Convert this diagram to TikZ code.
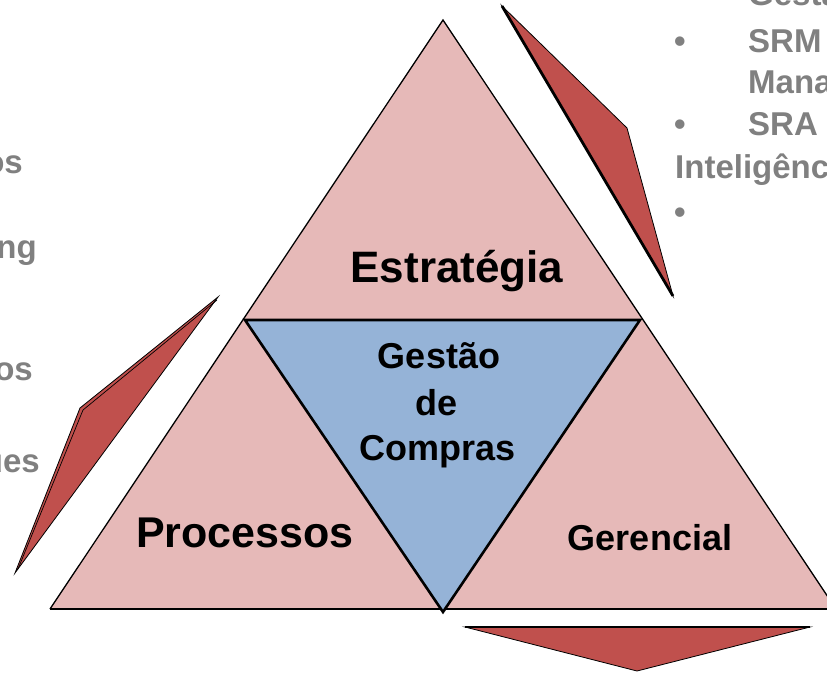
\documentclass[tikz,border=0pt]{standalone}
\usepackage{fontspec}
\setmainfont{Liberation Sans}
\usetikzlibrary{calc}
\definecolor{pinkfill}{HTML}{E6B9B8}
\definecolor{bluefill}{HTML}{95B3D7}
\definecolor{redfill}{HTML}{C0504D}
\definecolor{graytext}{HTML}{808080}
\tikzset{
  lbl/.style={inner sep=0pt, font=\bfseries\fontsize{#1}{#1}\selectfont, text=black},
  grey/.style={inner sep=0pt, font=\bfseries\fontsize{33}{33}\selectfont, text=graytext},
  arrowshape/.style={fill=redfill, draw=black, line width=0.8pt, line join=miter},
  thickedge/.style={draw=black, line width=2.8pt, line cap=butt},
}
\begin{document}
\begin{tikzpicture}[x=1pt,y=-1pt]
\useasboundingbox (0,0) rectangle (827,672);
% coordinates
\coordinate (apex) at (443,20);
\coordinate (bl) at (50,609);
\coordinate (br) at (836,609);
\coordinate (il) at (245,320);
\coordinate (ir) at (640,320);
\coordinate (ib) at (443,612);
% big triangle
\fill[pinkfill] (apex) -- (bl) -- (br) -- cycle;
\draw[line width=1.3pt, line join=miter] (br) -- (apex) -- (bl);
\draw[line width=2.2pt] (bl) -- (br);
% inner triangle
\draw[fill=bluefill, line width=2.6pt, line join=miter] (il) -- (ir) -- (ib) -- cycle;
% top-right red shape
\coordinate (ta) at (502,6);
\coordinate (tb) at (627,128);
\coordinate (tc) at (673,296);
\path[arrowshape] (ta) -- (tb) -- (tc) -- cycle;
\draw[thickedge] (ta) -- (tc);
% left red shape
\coordinate (la) at (218,297);
\coordinate (lb) at (80,408);
\coordinate (lc) at (15,573);
\path[arrowshape] (la) -- (lb) -- (lc) -- cycle;
\draw[line width=0.7pt] ($(la)+(-1,3)$) -- ($(lb)+(3,2)$) -- ($(lc)+(3,-4)$);
% bottom red shape
\coordinate (ba) at (465,627);
\coordinate (bb) at (810,627);
\coordinate (bc) at (637,671);
\path[arrowshape] (ba) -- (bb) -- (bc) -- cycle;
\draw[thickedge] (ba) -- (bb);
% labels
\node[lbl=44, anchor=base] (estr) at (457,282) {Estratégia};
\node[lbl=36, anchor=base] (g1) at (439,368) {Gestão};
\node[lbl=36, anchor=base] (g2) at (437,415) {de};
\node[lbl=36, anchor=base] (g3) at (438,460) {Compras};
\node[lbl=43, anchor=base] (proc) at (245,547) {Processos};
\node[lbl=36, anchor=base] (ger) at (650,550) {Gerencial};
% grey text left
\node[grey, anchor=base east] (l1) at (23,173) {os};
\node[grey, anchor=base east] (l2) at (37,258) {ng};
\node[grey, anchor=base east] (l3) at (33,380) {os};
\node[grey, anchor=base east] (l4) at (40,472) {ues};
% grey text right
\node[grey, anchor=base west] (r0) at (748,5) {Gestã};
\node[grey, anchor=base] (b1) at (680,52) {•};
\node[grey, anchor=base west] (r1) at (748,52) {SRM};
\node[grey, anchor=base west] (r2) at (748,93) {Mana};
\node[grey, anchor=base] (b2) at (680,135) {•};
\node[grey, anchor=base west] (r3) at (748,135) {SRA};
\node[grey, anchor=base west] (r4) at (675,178) {Inteligênc};
\node[grey, anchor=base] (b3) at (680,223) {•};
\end{tikzpicture}
\end{document}
